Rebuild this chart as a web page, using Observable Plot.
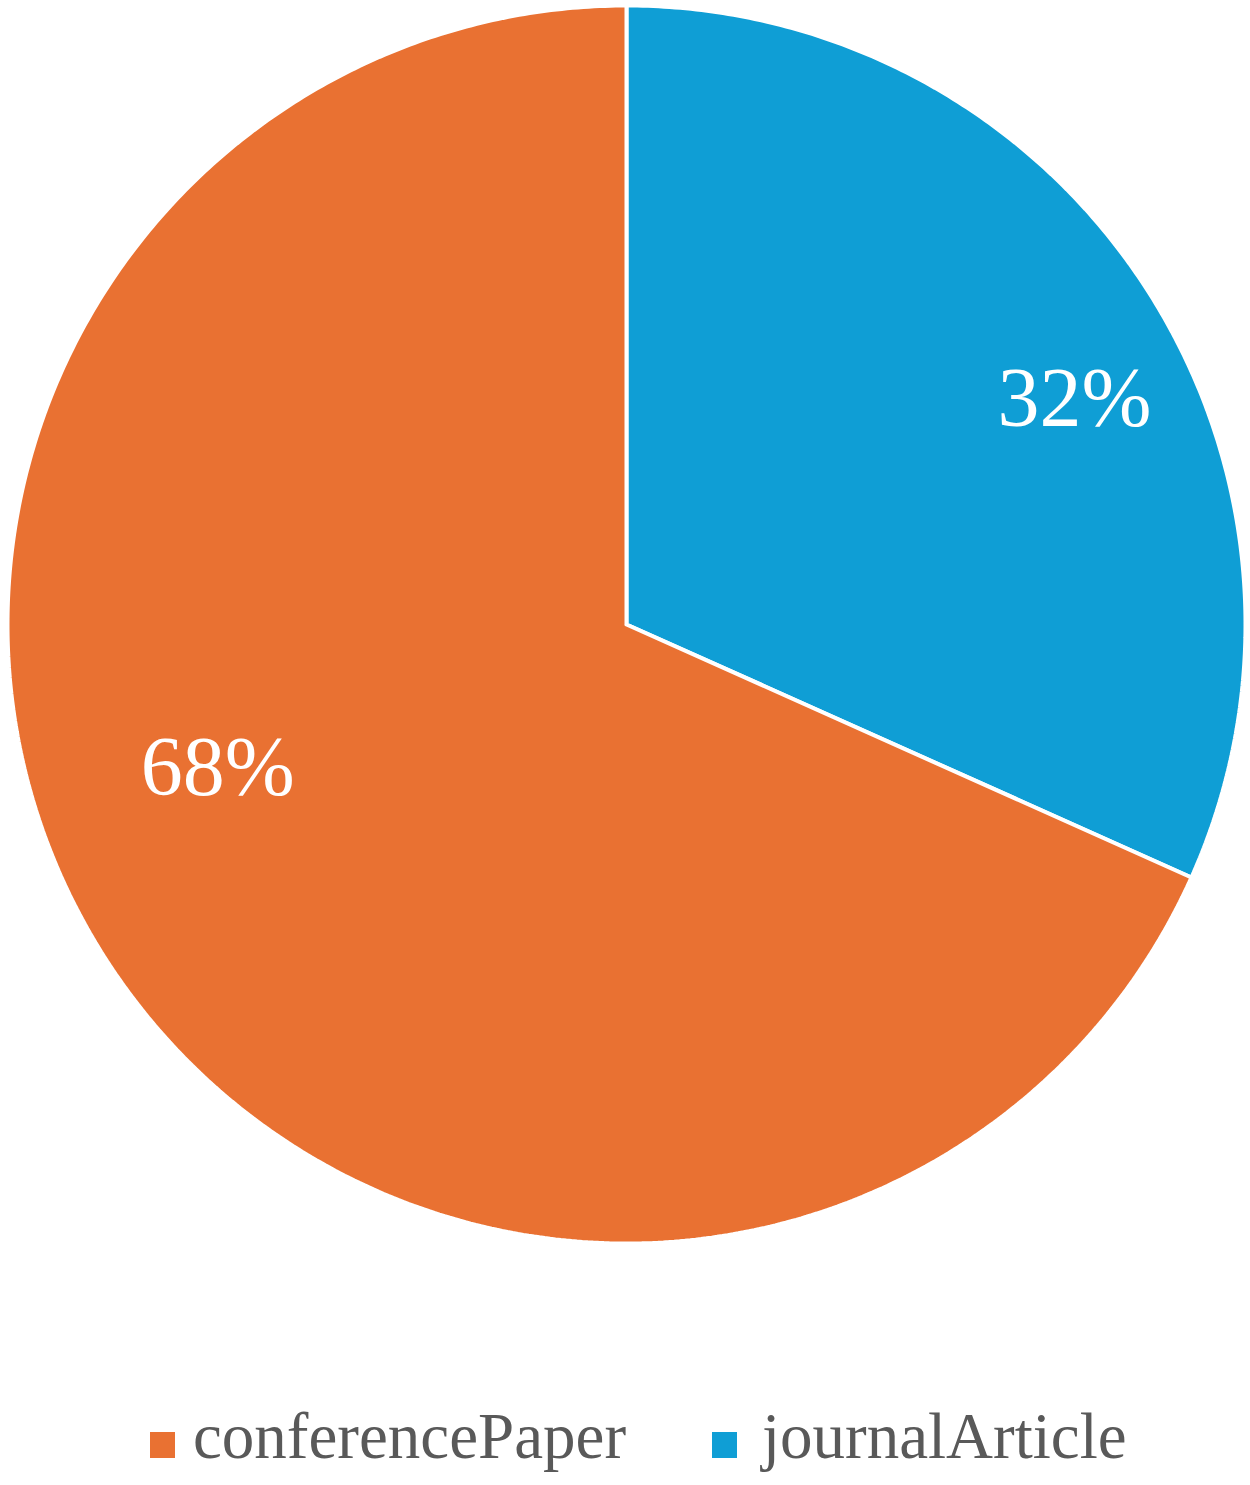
<!DOCTYPE html>
<html>
<head>
<meta charset="utf-8">
<script src="https://cdn.jsdelivr.net/npm/d3@7"></script>
<script src="https://cdn.jsdelivr.net/npm/@observablehq/plot@0.6"></script>
<style>
  html, body { margin: 0; padding: 0; background: #fff; }
  #wrap { position: relative; width: 1250px; height: 1485px; }
  #legend { position: absolute; left: 0; top: 1300px; }
</style>
</head>
<body>
<div id="wrap"><div id="chart"></div><div id="legend"></div></div>
<script>
// Data
const categories = ["journalArticle", "conferencePaper"]; // drawing order, clockwise from 12 o'clock
const values = [31.7, 68.3];
const legendOrder = ["conferencePaper", "journalArticle"];
const colors = {conferencePaper: "#E97132", journalArticle: "#0F9ED5"};

// label placement (fraction along slice angle, fraction of radius)
const labelPlace = {journalArticle: [0.555, 0.81], conferencePaper: [0.555, 0.70]};

const total = d3.sum(values);
const slices = [];
let acc = 0;
categories.forEach((c, i) => {
  const a0 = acc / total * 2 * Math.PI;
  acc += values[i];
  const a1 = acc / total * 2 * Math.PI;
  slices.push({key: c, value: values[i], a0, a1});
});

const pts = [];
for (const s of slices) {
  pts.push({key: s.key, x: 0, y: 0});
  const n = Math.max(2, Math.ceil((s.a1 - s.a0) / (Math.PI / 360)));
  for (let k = 0; k <= n; k++) {
    const a = s.a0 + (s.a1 - s.a0) * k / n;
    pts.push({key: s.key, x: Math.sin(a), y: Math.cos(a)});
  }
  pts.push({key: s.key, x: 0, y: 0});
}

const labels = slices.map(s => {
  const [f, r] = labelPlace[s.key];
  const a = s.a0 + (s.a1 - s.a0) * f;
  return {x: r * Math.sin(a), y: r * Math.cos(a), text: Math.round(s.value / total * 100) + "%"};
});

const chart = Plot.plot({
  width: 1250,
  height: 1300,
  marginLeft: 7,
  marginRight: 5,
  marginTop: 5,
  marginBottom: 57,
  x: {domain: [-1, 1], axis: null},
  y: {domain: [-1, 1], axis: null},
  color: {domain: legendOrder, range: legendOrder.map(k => colors[k])},
  style: {background: "white"},
  marks: [
    Plot.line(pts, {x: "x", y: "y", z: "key", fill: "key", stroke: "white", strokeWidth: 4, strokeLinejoin: "miter"}),
    Plot.text(labels, {x: "x", y: "y", text: "text", fill: "white", fontSize: 84,
      fontFamily: "Liberation Serif, Times New Roman, serif"})
  ]
});
document.getElementById("chart").appendChild(chart);

// Legend
const legendPos = {conferencePaper: [150, 193], journalArticle: [712, 762]};
const svg = d3.select("#legend").append("svg").attr("width", 1250).attr("height", 185);
for (const k of legendOrder) {
  const [sx, tx] = legendPos[k];
  svg.append("rect").attr("x", sx).attr("y", 132).attr("width", 25).attr("height", 26).attr("fill", colors[k]);
  svg.append("text").attr("x", tx).attr("y", 158)
    .attr("font-family", "Liberation Serif, Times New Roman, serif")
    .attr("font-size", 65).attr("fill", "#595959").text(k);
}
</script>
</body>
</html>
